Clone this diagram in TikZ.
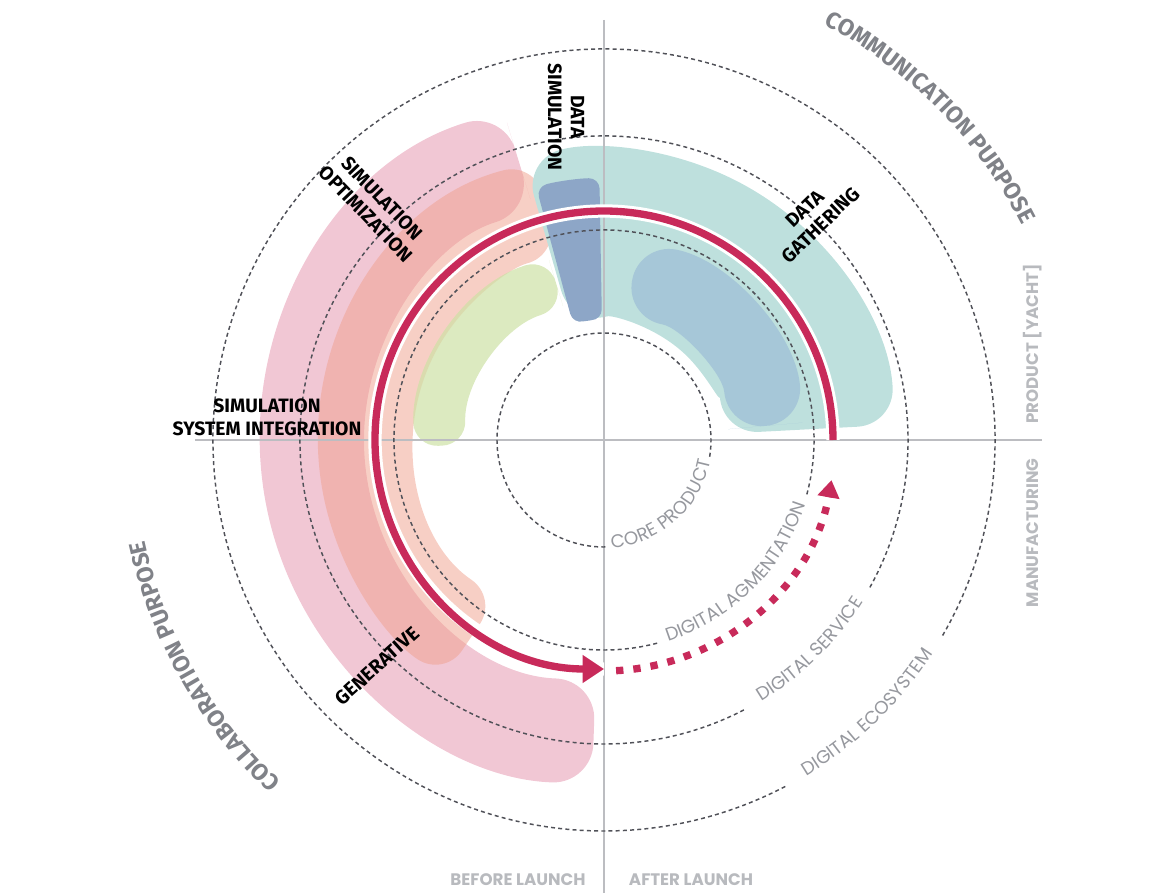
\documentclass[tikz,border=0pt]{standalone}
\usepackage{fontspec}
\setmainfont{Fira Sans}
\newfontfamily\poppins{Poppins}
\usepackage{tikz}
\usetikzlibrary{arrows.meta, decorations.text}

\definecolor{crimson}{RGB}{200,42,90}
\definecolor{ringgray}{RGB}{80,81,88}
\definecolor{axisgray}{RGB}{188,189,193}
\definecolor{ringtext}{RGB}{150,152,158}
\definecolor{purposegray}{RGB}{128,130,136}
\definecolor{sidegray}{RGB}{184,186,190}
\definecolor{pinkfill}{RGB}{224,130,160}
\definecolor{peachfill}{RGB}{240,160,140}
\definecolor{greenfill}{RGB}{205,225,165}
\definecolor{tealfill}{RGB}{190,224,221}
\definecolor{steelfill}{RGB}{166,199,216}
\definecolor{slatefill}{RGB}{141,166,199}

\newcommand{\ringfont}{\poppins\fontsize{13.8}{15}\selectfont}
\newcommand{\purposefont}{\bfseries\fontsize{17.5}{19}\selectfont}
% band between two radii, started half way up its first edge so every corner gets rounded
\newcommand{\ringband}[6]{\fill[#1, rounded corners=#6] (#2:{(#4+#5)/2}) -- (#2:#5)
  arc[start angle=#2, end angle=#3, radius=#5] -- (#3:#4)
  arc[start angle=#3, end angle=#2, radius=#4] -- cycle;}

\tikzstyle{ring} = [draw=ringgray, line width=1.1pt, dash pattern=on 3pt off 2.4pt]
\tikzstyle{axisline} = [draw=axisgray, line width=1pt]
\tikzstyle{journey} = [draw=crimson, line width=5.5pt]
\tikzstyle{blacktag} = [font=\bfseries\fontsize{14.5}{17}\selectfont, text=black, align=center, inner sep=0pt]
\tikzstyle{sidetag} = [font=\poppins\bfseries\fontsize{12.5}{14}\selectfont, text=sidegray, inner sep=0pt]
\tikzstyle{ringtag} = [decorate, decoration={text along path, text align=center, raise=-1pt, text color=ringtext}]
\tikzstyle{purposetag} = [decorate, decoration={text along path, text align=center, text color=purposegray}]

\begin{document}
\begin{tikzpicture}[x=0.75pt, y=0.75pt]
\useasboundingbox (-604,-453) rectangle (552,440);

\ringband{pinkfill, fill opacity=.45}{107}{268}{240}{344}{30pt}
\ringband{peachfill, fill opacity=.5}{104}{236}{190}{286}{24pt}
\ringband{greenfill, fill opacity=.7}{107}{182}{138}{190}{18pt}
\ringband{tealfill}{3}{106}{118}{291}{28pt}
\ringband{steelfill}{5}{80}{124}{200}{28pt}
\ringband{slatefill}{91}{105}{120}{262}{8pt}

\draw[axisline] (-409,0) -- (438,0);
\draw[axisline] (0,420) -- (0,-453);

\draw[ring] (351:107) arc[start angle=351, end angle=632, radius=107];
\draw[ring] (345:210) arc[start angle=345, end angle=645, radius=210];
\draw[ring] (331:304) arc[start angle=331, end angle=658, radius=304];
\draw[ring] (330:391) arc[start angle=330, end angle=658, radius=391];

\path[ringtag, decoration={text={|\ringfont|CORE PRODUCT}}] (262:107) arc[start angle=262, end angle=361, radius=107];
\path[ringtag, decoration={text={|\ringfont|DIGITAL AGMENTATION}}] (255:210) arc[start angle=255, end angle=375, radius=210];
\path[ringtag, decoration={text={|\ringfont|DIGITAL SERVICE}}] (270:304) arc[start angle=270, end angle=359, radius=304];
\path[ringtag, decoration={text={|\ringfont|DIGITAL ECOSYSTEM}}] (274:391) arc[start angle=274, end angle=354, radius=391];

\path[purposetag, decoration={text={|\purposefont|COMMUNICATION PURPOSE}}] (84.7:470) arc[start angle=84.7, end angle=4.7, radius=470];
\path[purposetag, decoration={text={|\purposefont|COLLABORATION PURPOSE}}] (249.5:470) arc[start angle=249.5, end angle=169.5, radius=470];

\draw[white, line width=10pt] (0:229) arc[start angle=0, end angle=270, radius=229];
\draw[journey, -{Triangle[length=16pt, width=20pt]}] (0:229) arc[start angle=0, end angle=270, radius=229];
\draw[journey, dash pattern=on 5.5pt off 7.5pt, -{Triangle[length=13pt, width=16pt]}] (273:231) arc[start angle=273, end angle=350, radius=231];

\node[blacktag] (simint) at (-337,23) {SIMULATION\\SYSTEM INTEGRATION};
\node[blacktag, rotate=-46] (simopt) at (-230,234) {SIMULATION\\OPTIMIZATION};
\node[blacktag, rotate=-90] (datasim) at (-38,323) {DATA\\SIMULATION};
\node[blacktag, rotate=44] (datagath) at (209,223) {DATA\\GATHERING};
\node[blacktag, rotate=42] (generative) at (-227,-226) {GENERATIVE};

\node[sidetag, rotate=90] (product) at (429,96) {PRODUCT [YACHT]};
\node[sidetag, rotate=90] (manuf) at (429,-93) {MANUFACTURING};
\node[sidetag] (before) at (-86,-440) {BEFORE LAUNCH};
\node[sidetag] (after) at (87,-440) {AFTER LAUNCH};
\end{tikzpicture}
\end{document}
